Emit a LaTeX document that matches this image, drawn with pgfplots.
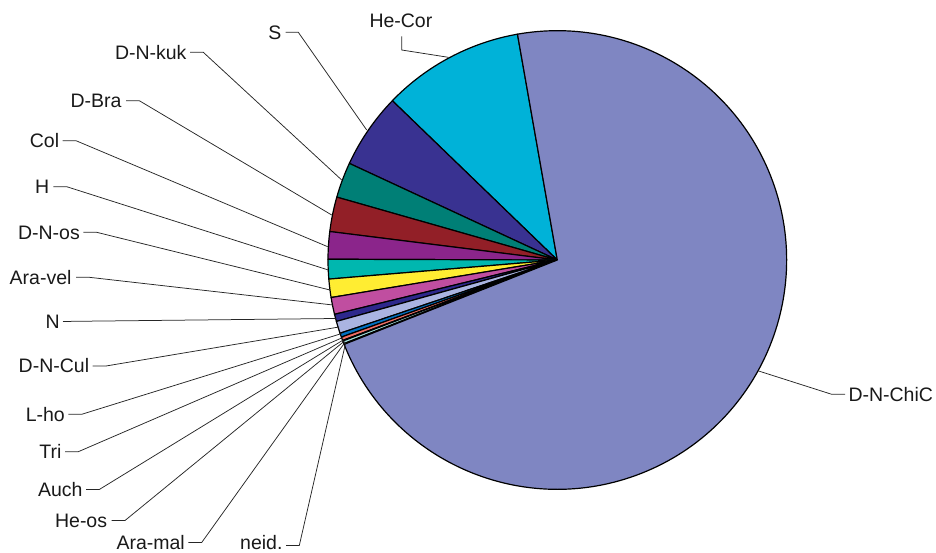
\documentclass[border=0pt]{standalone}
\usepackage{pgfplots}
\usepackage{pgfplotstable}
\pgfplotsset{compat=1.18}
\usepackage{fontspec}
\setmainfont{Liberation Sans}

% slice colours
\definecolor{cHeCor}{HTML}{00B2D8}
\definecolor{cS}{HTML}{393291}
\definecolor{cKuk}{HTML}{007F76}
\definecolor{cBra}{HTML}{921F27}
\definecolor{cCol}{HTML}{8B258B}
\definecolor{cH}{HTML}{00B7AF}
\definecolor{cOs}{HTML}{FFED32}
\definecolor{cVel}{HTML}{C04EA0}
\definecolor{cN}{HTML}{2D288C}
\definecolor{cCul}{HTML}{AAB4E1}
\definecolor{cLho}{HTML}{0070C0}
\definecolor{cTri}{HTML}{F06E64}
\definecolor{cAuch}{HTML}{6B2C8C}
\definecolor{cHeos}{HTML}{A0DCD7}
\definecolor{cMal}{HTML}{D0D0F0}
\definecolor{cNeid}{HTML}{404040}
\definecolor{cChiC}{HTML}{7F86C2}

% shares in percent, drawn counter-clockwise starting at 100 degrees
\pgfplotstableread{
label     value  color
He-Cor    10.00  cHeCor
S          5.30  cS
D-N-kuk    2.50  cKuk
D-Bra      2.44  cBra
Col        1.93  cCol
H          1.38  cH
D-N-os     1.29  cOs
Ara-vel    1.19  cVel
N          0.51  cN
D-N-Cul    0.86  cCul
L-ho       0.28  cLho
Tri        0.25  cTri
Auch       0.04  cAuch
He-os      0.20  cHeos
Ara-mal    0.03  cMal
neid.      0.02  cNeid
D-N-ChiC  71.78  cChiC
}\slices

% label placement: text position, anchor, leader line (text end, elbow, slice point)
\pgfplotstableread{
label     tx     ty     anc   ax     ay     bx     by     px     py
He-Cor    369.3  27.5   west  401.7  36.5   401.7  50.0   448.3  57.3
S         281.7  39.3   east  285.7  32.3   298.3  32.3   366.7  130.0
D-N-kuk   186.7  59.3   east  190.0  52.3   203.3  52.3   341.7  180.0
D-Bra     121.7  107.7  east  126.0  100.7  139.3  100.7  331.7  215.0
Col        59.3  147.7  east   62.7  140.7   76.0  140.7  327.7  246.7
H          49.3  193.7  east   53.3  186.7   66.7  186.7  328.3  270.0
D-N-os     80.0  239.3  east   83.3  232.3   96.7  232.3  330.0  290.0
Ara-vel    71.7  284.3  east   76.0  277.3   89.3  277.3  333.0  305.0
N          60.0  328.5  east   63.0  321.5   76.0  321.3  335.5  318.5
D-N-Cul    89.3  373.0  east   92.7  366.0  106.0  366.0  339.0  327.0
L-ho       65.0  421.3  east   68.3  414.3   81.7  414.3  341.7  333.5
Tri        61.7  458.7  east   65.0  451.7   78.3  451.7  343.3  337.3
Auch       82.7  496.5  east   86.0  489.5   99.3  489.5  344.0  339.5
He-os     107.3  527.5  east  111.7  520.5  125.0  520.5  344.5  341.0
Ara-mal   185.0  549.3  east  188.3  542.5  201.7  542.5  345.0  342.3
neid.     282.7  549.8  east  286.0  545.5  299.3  545.5  345.5  343.5
D-N-ChiC  848.3  401.3  west  845.0  394.3  831.7  394.3  757.7  370.7
}\labels

\begin{document}
\begin{tikzpicture}
\begin{axis}[
  x=1bp, y=1bp,
  xmin=0, xmax=936, ymin=0, ymax=553,
  y dir=reverse,
  hide axis, scale only axis, clip=false,
]
\pgfplotsextra{
  % pie slices
  \pgfplotstablegetrowsof{\slices}
  \pgfmathtruncatemacro{\lastrow}{\pgfplotsretval-1}
  \xdef\angstart{100}
  \foreach \i in {0,...,\lastrow}{
    \pgfplotstablegetelem{\i}{value}\of{\slices}\let\v\pgfplotsretval
    \pgfplotstablegetelem{\i}{color}\of{\slices}\let\c\pgfplotsretval
    \pgfmathsetmacro{\angend}{\angstart+3.6*\v}
    \filldraw[fill=\c, draw=black, line width=1.2bp, line join=round]
      (axis cs:557.3,260) -- ++(\angstart:229.3bp)
      arc[start angle=\angstart, end angle=\angend, radius=229.3bp] -- cycle;
    \xdef\angstart{\angend}
  }
  % labels and leader lines
  \pgfplotstablegetrowsof{\labels}
  \pgfmathtruncatemacro{\lastlab}{\pgfplotsretval-1}
  \foreach \i in {0,...,\lastlab}{
    \pgfplotstablegetelem{\i}{label}\of{\labels}\let\lab\pgfplotsretval
    \pgfplotstablegetelem{\i}{tx}\of{\labels}\let\tx\pgfplotsretval
    \pgfplotstablegetelem{\i}{ty}\of{\labels}\let\ty\pgfplotsretval
    \pgfplotstablegetelem{\i}{anc}\of{\labels}\let\anc\pgfplotsretval
    \pgfplotstablegetelem{\i}{ax}\of{\labels}\let\ax\pgfplotsretval
    \pgfplotstablegetelem{\i}{ay}\of{\labels}\let\ay\pgfplotsretval
    \pgfplotstablegetelem{\i}{bx}\of{\labels}\let\bx\pgfplotsretval
    \pgfplotstablegetelem{\i}{by}\of{\labels}\let\by\pgfplotsretval
    \pgfplotstablegetelem{\i}{px}\of{\labels}\let\px\pgfplotsretval
    \pgfplotstablegetelem{\i}{py}\of{\labels}\let\py\pgfplotsretval
    \draw[black!85, line width=0.75bp]
      (axis cs:\ax,\ay) -- (axis cs:\bx,\by) -- (axis cs:\px,\py);
    \node[anchor=base \anc, inner sep=0pt, text=black!90,
          font=\fontsize{19.5bp}{23bp}\selectfont]
      at (axis cs:\tx,\ty) {\lab};
  }
}
\end{axis}
\pgfresetboundingbox
\path (current axis.south west) rectangle (current axis.north east);
\end{tikzpicture}
\end{document}
